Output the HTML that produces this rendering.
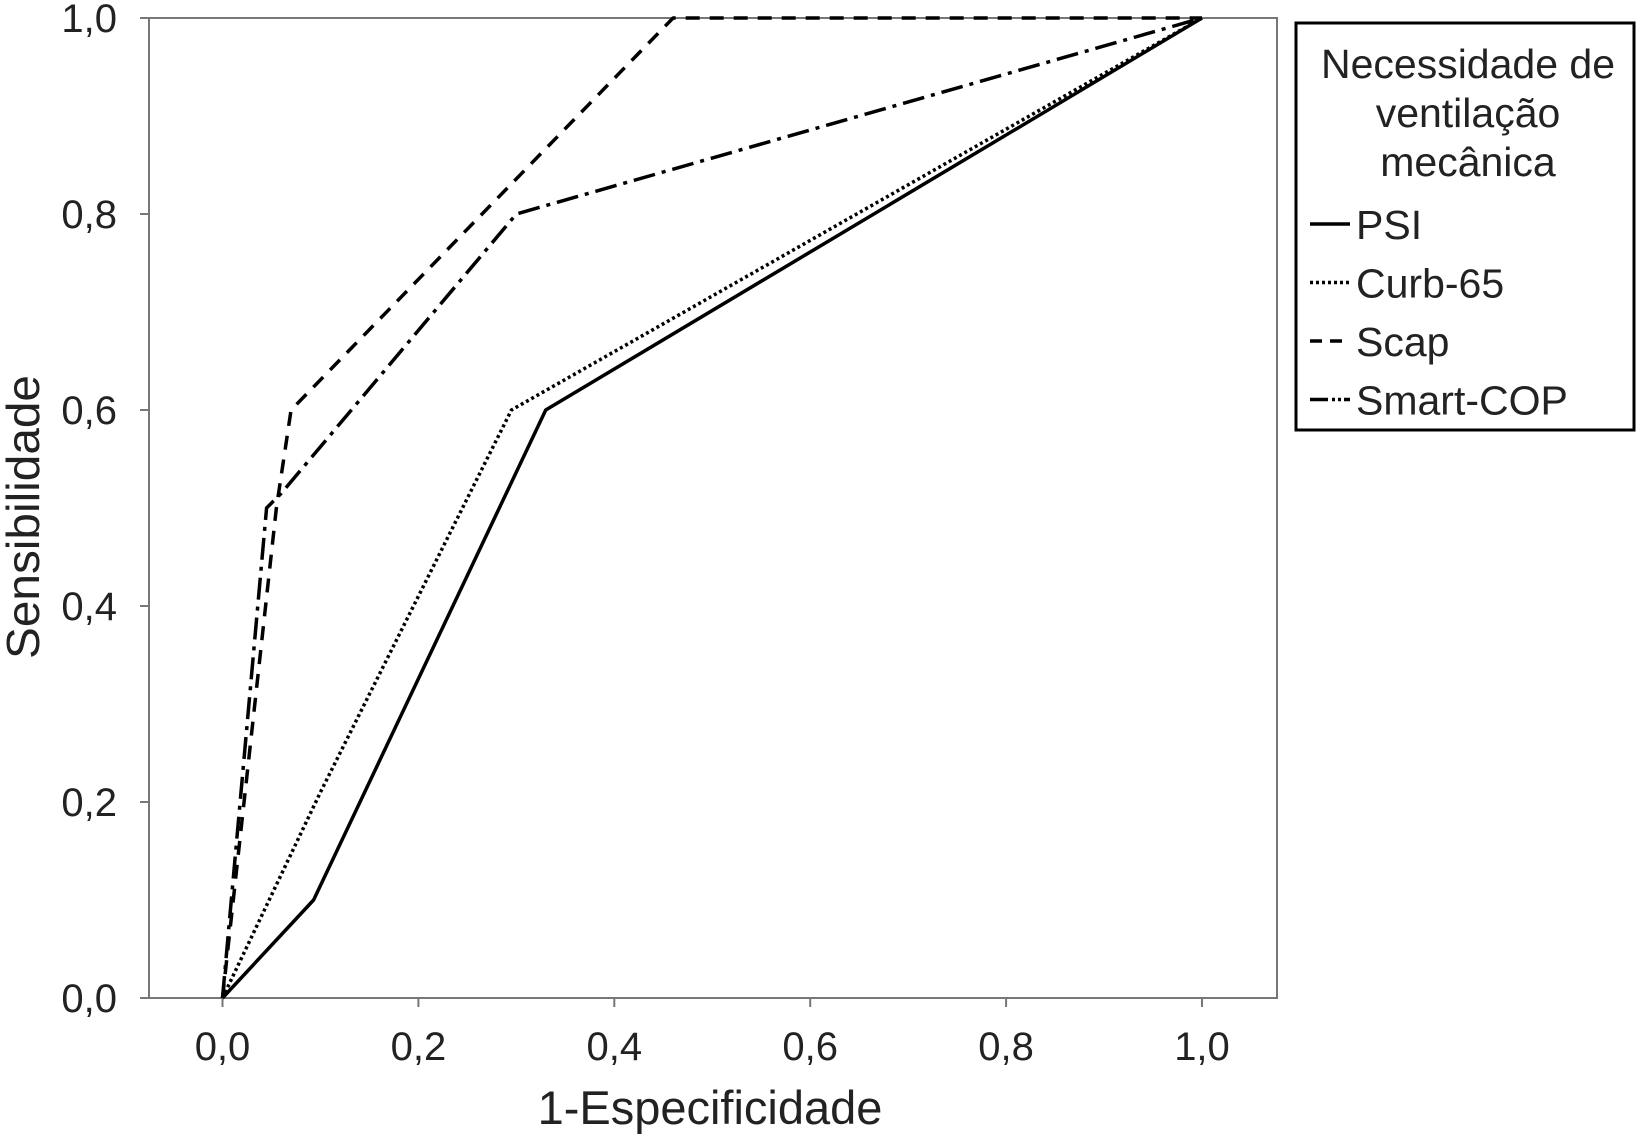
<!DOCTYPE html>
<html><head><meta charset="utf-8"><style>
html,body{margin:0;padding:0;background:#fff;}
svg{display:block;font-family:"Liberation Sans",sans-serif;}
</style></head><body>
<svg id="chart" width="1638" height="1136" viewBox="0 0 1638 1136">
<rect x="149" y="18" width="1128" height="980" fill="none" stroke="#777" stroke-width="2"/>
<g id="axes"></g>
<g id="series"></g>
<text x="23" y="517" transform="rotate(-90 23 517)" text-anchor="middle" dominant-baseline="central" font-size="46" fill="#222" textLength="284" lengthAdjust="spacingAndGlyphs">Sensibilidade</text>
<text x="710" y="1124" text-anchor="middle" font-size="47" fill="#222">1-Especificidade</text>
<g>
<rect x="1296" y="23" width="338" height="407" fill="#fff" stroke="#000" stroke-width="3"/>
<text x="1468" y="78" text-anchor="middle" font-size="41" fill="#222"><tspan x="1468">Necessidade de</tspan><tspan x="1468" dy="49">ventilação</tspan><tspan x="1468" dy="49">mecânica</tspan></text>
<g id="legend-entries"></g>
</g>
</svg>
<script>
const xTicks=[0,0.2,0.4,0.6,0.8,1.0];
const yTicks=[0,0.2,0.4,0.6,0.8,1.0];
const tickLabels=["0,0","0,2","0,4","0,6","0,8","1,0"];
const seriesNames=["PSI","Curb-65","Scap","Smart-COP"];
const psiX=[0,0.093,0.33,1];
const psiY=[0,0.1,0.6,1];
const curbX=[0,0.1,0.295,1];
const curbY=[0,0.21,0.6,1];
const scapX=[0,0.055,0.07,0.46,1];
const scapY=[0,0.5,0.6,1,1];
const smartX=[0,0.045,0.06,0.3,1];
const smartY=[0,0.5,0.515,0.8,1];

const NS="http://www.w3.org/2000/svg";
const sx=v=>222.5+v*(1202-222.5);
const sy=v=>998-v*(998-18);
const axes=document.getElementById('axes');
function mk(tag,attrs,parent){const e=document.createElementNS(NS,tag);for(const k in attrs)e.setAttribute(k,attrs[k]);parent.appendChild(e);return e;}
xTicks.forEach((t,i)=>{
  const l=mk('line',{x1:sx(t),x2:sx(t),y1:998,y2:1007,stroke:'#777','stroke-width':2},axes);
  
  
  const tx=mk('text',{x:sx(t),y:1060,'text-anchor':'middle','font-size':40,fill:'#222'},axes);
  tx.textContent=tickLabels[i];
  
  
});
yTicks.forEach((t,i)=>{
  const l=mk('line',{x1:140,x2:149,y1:sy(t),y2:sy(t),stroke:'#777','stroke-width':2},axes);
  
  
  const tx=mk('text',{x:117,y:sy(t)+14,'text-anchor':'end','font-size':40,fill:'#222'},axes);
  tx.textContent=tickLabels[i];
  
  
});
const styles=[
 {dash:'none',names:'psi-line'},
 {dash:'3 3',names:'curb65-line'},
 {dash:'14 10',names:'scap-line'},
 {dash:'22 7 4 7',names:'smart-cop-line'}
];
const data=[[psiX,psiY],[curbX,curbY],[scapX,scapY],[smartX,smartY]];
const sg=document.getElementById('series');
data.forEach((d,i)=>{
  const pts=d[0].map((x,j)=>sx(x)+','+sy(d[1][j])).join(' ');
  const p=mk('polyline',{points:pts,fill:'none',stroke:'#000','stroke-width':3.5,'stroke-dasharray':styles[i].dash,'stroke-linejoin':'round'},sg);
  
  
});
const lg=document.getElementById('legend-entries');
seriesNames.forEach((n,i)=>{
  const y=224+i*58.5;
  const l=mk('line',{x1:1310,x2:1350,y1:y,y2:y,stroke:'#000','stroke-width':3.5,'stroke-dasharray':i==2?'12 8':(i==3?'18 4 3 3 3 3':styles[i].dash)},lg);
  
  
  const t=mk('text',{x:1356,y:y+15,'font-size':41,fill:'#222'},lg);
  t.textContent=n;
  
  
});
</script>
</body></html>
